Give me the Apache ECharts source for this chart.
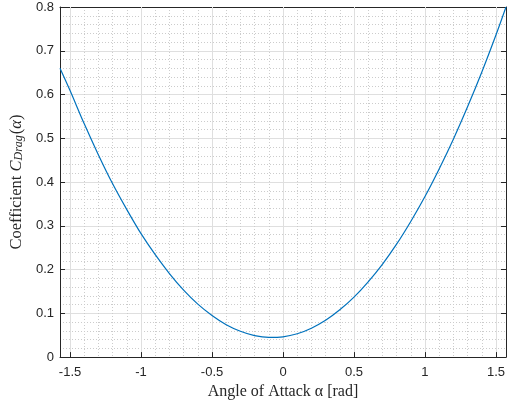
<!DOCTYPE html>
<html>
<head>
<meta charset="utf-8">
<script src="https://cdn.jsdelivr.net/npm/echarts@6/dist/echarts.min.js"></script>
<style>
html,body{margin:0;padding:0;background:#fff;}
#chart{width:511px;height:405px;}
</style>
</head>
<body>
<div id="chart"></div>
<script>
// Angle of attack (rad) and drag coefficient
const alpha = [-1.5708,-1.5,-1.4,-1.3,-1.2,-1.1,-1.0,-0.9,-0.8,-0.7,-0.6,-0.5,-0.4,-0.3,-0.2,-0.1,0.0,0.1,0.2,0.3,0.4,0.5,0.6,0.7,0.8,0.9,1.0,1.1,1.2,1.3,1.4,1.5,1.5708];
const cDrag = [0.660,0.609,0.533,0.462,0.396,0.337,0.282,0.234,0.191,0.153,0.121,0.095,0.074,0.059,0.049,0.0449,0.0463,0.0533,0.066,0.084,0.108,0.137,0.172,0.212,0.258,0.310,0.367,0.430,0.498,0.572,0.651,0.736,0.800];
const xTicks = [-1.5,-1,-0.5,0,0.5,1,1.5];
const xMinorTicks = [-1.5,-1.4,-1.3,-1.2,-1.1,-1,-0.9,-0.8,-0.7,-0.6,-0.5,-0.4,-0.3,-0.2,-0.1,0,0.1,0.2,0.3,0.4,0.5,0.6,0.7,0.8,0.9,1,1.1,1.2,1.3,1.4,1.5];
const yTicks = [0,0.1,0.2,0.3,0.4,0.5,0.6,0.7,0.8];

const XMIN = -Math.PI/2, XMAX = Math.PI/2;
const axisCol = '#262626';
const majorGrid = '#dfdfdf';
const minorGrid = '#cccccc';
const tickFont = {fontFamily:'Liberation Sans', fontSize:13, color:axisCol};

const chart = echarts.init(document.getElementById('chart'), null, {renderer:'canvas'});
const data = alpha.map((a,i)=>[a,cDrag[i]]);

chart.setOption({
  animation:false,
  backgroundColor:'#fff',
  grid:{left:60, right:5, top:7, bottom:46, containLabel:false},
  xAxis:[
    { // minor grid
      type:'value', position:'bottom', min:XMIN, max:XMAX,
      axisLine:{show:false}, axisLabel:{show:false},
      axisTick:{show:false, customValues:xMinorTicks},
      splitLine:{show:true, lineStyle:{color:minorGrid, type:[1,2], width:1}},
      z:0
    },
    { // main
      type:'value', position:'bottom', min:XMIN, max:XMAX,
      name:'Angle of Attack α [rad]', nameLocation:'middle', nameGap:20,
      nameTextStyle:{fontFamily:'Liberation Serif', fontSize:16, color:axisCol},
      axisLine:{show:true, onZero:false, lineStyle:{color:axisCol, width:1}},
      axisTick:{show:true, inside:true, length:5, customValues:xTicks, lineStyle:{color:axisCol}},
      axisLabel:{show:true, margin:9, customValues:xTicks, ...tickFont, formatter:v=>String(+v.toFixed(2))},
      splitLine:{show:true, lineStyle:{color:majorGrid, width:1}},
      z:1
    },
    { // top box
      type:'value', position:'top', min:XMIN, max:XMAX,
      axisLine:{show:true, onZero:false, lineStyle:{color:axisCol, width:1}},
      axisTick:{show:true, inside:true, length:5, customValues:xTicks, lineStyle:{color:axisCol}},
      axisLabel:{show:false}, splitLine:{show:false}
    }
  ],
  yAxis:[
    {
      type:'value', position:'left', min:0, max:0.8, interval:0.1,
      name:'{n|Coefficient }{i|C}{s|Drag}{n|(}{i|α}{n|)}', nameLocation:'middle', nameGap:25,
      nameTextStyle:{
        color:axisCol,
        rich:{
          n:{fontFamily:'Liberation Serif', fontSize:16.5, color:axisCol},
          i:{fontFamily:'Liberation Serif', fontStyle:'italic', fontSize:16.5, color:axisCol},
          s:{fontFamily:'Liberation Serif', fontStyle:'italic', fontSize:12, color:axisCol, verticalAlign:'bottom', padding:[0,1,0,0]}
        }
      },
      axisLine:{show:true, onZero:false, lineStyle:{color:axisCol, width:1}},
      axisTick:{show:true, inside:true, length:5, lineStyle:{color:axisCol}},
      axisLabel:{show:true, margin:6, ...tickFont, formatter:v=>String(+v.toFixed(2))},
      splitLine:{show:true, lineStyle:{color:majorGrid, width:1}},
      minorTick:{show:false, splitNumber:5},
      minorSplitLine:{show:true, lineStyle:{color:minorGrid, type:[1,2], width:1}}
    },
    {
      type:'value', position:'right', min:0, max:0.8, interval:0.1,
      axisLine:{show:true, onZero:false, lineStyle:{color:axisCol, width:1}},
      axisTick:{show:true, inside:true, length:5, lineStyle:{color:axisCol}},
      axisLabel:{show:false}, splitLine:{show:false}
    }
  ],
  series:[{
    type:'line', xAxisIndex:1, yAxisIndex:0,
    data:data, smooth:0.3, showSymbol:false, symbol:'none',
    lineStyle:{color:'#0072BD', width:1.2},
    z:5
  }]
});
</script>
</body>
</html>
